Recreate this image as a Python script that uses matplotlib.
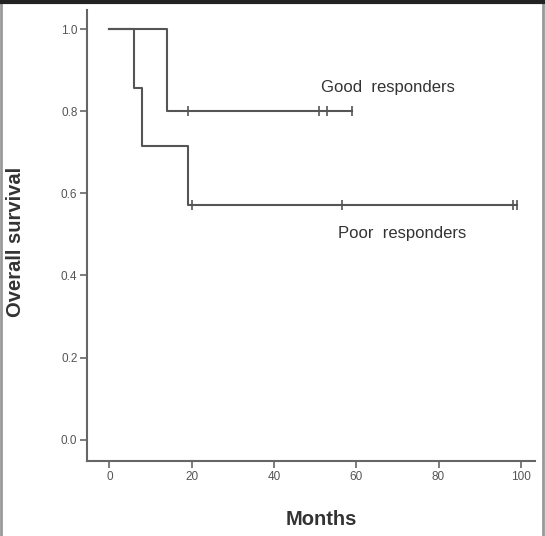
import matplotlib
matplotlib.use('Agg')
import matplotlib.pyplot as plt
from matplotlib.lines import Line2D

plt.rcParams['font.family'] = ['Liberation Sans', 'DejaVu Sans']

# Kaplan-Meier steps (months, survival)
good_times = [0, 14, 59]
good_surv = [1.0, 0.8, 0.8]
good_censored = [19, 51, 53, 59]
good_censored_surv = [0.8, 0.8, 0.8, 0.8]

poor_times = [0, 6, 8, 19, 99]
poor_surv = [1.0, 6 / 7, 5 / 7, 4 / 7, 4 / 7]
poor_censored = [20, 56.5, 98.2, 99]
poor_censored_surv = [4 / 7, 4 / 7, 4 / 7, 4 / 7]

x_ticks = [0, 20, 40, 60, 80, 100]
y_ticks = [0.0, 0.2, 0.4, 0.6, 0.8, 1.0]

line_col = '#555555'
spine_col = '#666666'

fig = plt.figure(figsize=(5.45, 5.36), dpi=100)
ax = fig.add_axes([0.160, 0.140, 0.822, 0.841])

ax.step(good_times, good_surv, where='post', color=line_col, lw=1.5)
ax.step(poor_times, poor_surv, where='post', color=line_col, lw=1.5)

# censor marks
ax.plot(good_censored, good_censored_surv, ls='none', marker='|', ms=7, mew=1.2, color=line_col)
ax.plot(poor_censored, poor_censored_surv, ls='none', marker='|', ms=7, mew=1.2, color=line_col)

ax.text(51.5, 0.858, 'Good  responders', fontsize=12, color='#333333', va='center')
ax.text(55.5, 0.503, 'Poor  responders', fontsize=12, color='#333333', va='center')

ax.set_xlim(-5.4, 103.5)
ax.set_ylim(-0.052, 1.046)
ax.set_xticks(x_ticks)
ax.set_xticklabels([str(v) for v in x_ticks])
ax.set_yticks(y_ticks)
ax.set_yticklabels([f'{v:.1f}' for v in y_ticks])

for side in ['top', 'right']:
    ax.spines[side].set_visible(False)
for side in ['left', 'bottom']:
    ax.spines[side].set_color(spine_col)
    ax.spines[side].set_linewidth(1.5)

ax.tick_params(axis='both', direction='out', length=5, width=1.2, color=spine_col,
               labelsize=8.5, labelcolor='#555555', pad=2)

fig.text(0.028, 0.549, 'Overall survival', rotation=90, fontsize=14.5, fontweight='bold',
         color='#333333', ha='center', va='center')
fig.text(0.589, 0.031, 'Months', fontsize=14.5, fontweight='bold',
         color='#333333', ha='center', va='center')

# frame around the picture
fig.add_artist(Line2D([0.002, 0.002], [0, 1], transform=fig.transFigure, color='#999999', lw=2))
fig.add_artist(Line2D([0.996, 0.996], [0, 1], transform=fig.transFigure, color='#999999', lw=2))
fig.add_artist(Line2D([0, 1], [0.997, 0.997], transform=fig.transFigure, color='#222222', lw=3))

fig.savefig('out.png', dpi=100)
